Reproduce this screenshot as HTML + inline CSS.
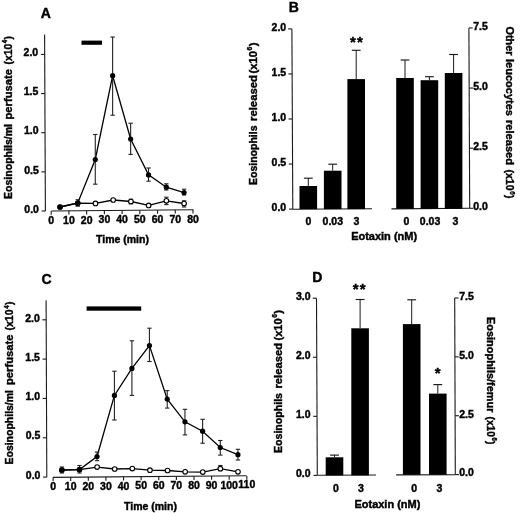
<!DOCTYPE html>
<html><head><meta charset="utf-8"><title>Figure</title>
<style>
html,body{margin:0;padding:0;background:#fff;}
body{width:520px;height:513px;overflow:hidden;}
svg{display:block;font-family:"Liberation Sans", sans-serif;will-change:transform;}
text{fill:#000;stroke:#000;stroke-width:0.4px;}
</style></head><body>
<svg width="520" height="513" viewBox="0 0 520 513">
<rect width="520" height="513" fill="#fff"/>
<line x1="44.60" y1="34.40" x2="45.40" y2="211.00" stroke="#1a1a1a" stroke-width="1.1"/>
<line x1="41.60" y1="211.00" x2="45.40" y2="211.00" stroke="#1a1a1a" stroke-width="1.1"/>
<line x1="41.42" y1="171.85" x2="45.22" y2="171.85" stroke="#1a1a1a" stroke-width="1.1"/>
<line x1="41.25" y1="132.70" x2="45.05" y2="132.70" stroke="#1a1a1a" stroke-width="1.1"/>
<line x1="41.07" y1="93.55" x2="44.87" y2="93.55" stroke="#1a1a1a" stroke-width="1.1"/>
<line x1="40.89" y1="54.40" x2="44.69" y2="54.40" stroke="#1a1a1a" stroke-width="1.1"/>
<text transform="translate(38.90,212.70) scale(1.050,1)" font-size="10" text-anchor="end" font-weight="bold" >0.0</text>
<text transform="translate(38.72,173.55) scale(1.050,1)" font-size="10" text-anchor="end" font-weight="bold" >0.5</text>
<text transform="translate(38.55,134.40) scale(1.050,1)" font-size="10" text-anchor="end" font-weight="bold" >1.0</text>
<text transform="translate(38.37,95.25) scale(1.050,1)" font-size="10" text-anchor="end" font-weight="bold" >1.5</text>
<text transform="translate(38.20,56.10) scale(1.050,1)" font-size="10" text-anchor="end" font-weight="bold" >2.0</text>
<line x1="51.30" y1="211.00" x2="193.40" y2="209.70" stroke="#1a1a1a" stroke-width="1.1"/>
<line x1="51.20" y1="211.00" x2="51.20" y2="214.70" stroke="#1a1a1a" stroke-width="1.1"/>
<line x1="68.93" y1="210.84" x2="68.93" y2="214.54" stroke="#1a1a1a" stroke-width="1.1"/>
<line x1="86.65" y1="210.68" x2="86.65" y2="214.38" stroke="#1a1a1a" stroke-width="1.1"/>
<line x1="104.38" y1="210.51" x2="104.38" y2="214.21" stroke="#1a1a1a" stroke-width="1.1"/>
<line x1="122.10" y1="210.35" x2="122.10" y2="214.05" stroke="#1a1a1a" stroke-width="1.1"/>
<line x1="139.82" y1="210.19" x2="139.82" y2="213.89" stroke="#1a1a1a" stroke-width="1.1"/>
<line x1="157.55" y1="210.03" x2="157.55" y2="213.73" stroke="#1a1a1a" stroke-width="1.1"/>
<line x1="175.28" y1="209.87" x2="175.28" y2="213.57" stroke="#1a1a1a" stroke-width="1.1"/>
<line x1="193.00" y1="209.70" x2="193.00" y2="213.40" stroke="#1a1a1a" stroke-width="1.1"/>
<text transform="translate(51.20,223.90) scale(1.050,1)" font-size="10" text-anchor="middle" font-weight="bold" >0</text>
<text transform="translate(68.93,223.75) scale(1.050,1)" font-size="10" text-anchor="middle" font-weight="bold" >10</text>
<text transform="translate(86.65,223.60) scale(1.050,1)" font-size="10" text-anchor="middle" font-weight="bold" >20</text>
<text transform="translate(104.38,223.45) scale(1.050,1)" font-size="10" text-anchor="middle" font-weight="bold" >30</text>
<text transform="translate(122.10,223.30) scale(1.050,1)" font-size="10" text-anchor="middle" font-weight="bold" >40</text>
<text transform="translate(139.82,223.15) scale(1.050,1)" font-size="10" text-anchor="middle" font-weight="bold" >50</text>
<text transform="translate(157.55,223.00) scale(1.050,1)" font-size="10" text-anchor="middle" font-weight="bold" >60</text>
<text transform="translate(175.28,222.85) scale(1.050,1)" font-size="10" text-anchor="middle" font-weight="bold" >70</text>
<text transform="translate(193.00,222.70) scale(1.050,1)" font-size="10" text-anchor="middle" font-weight="bold" >80</text>
<text transform="translate(122.50,243.20) scale(1.050,1)" font-size="10" text-anchor="middle" font-weight="bold" >Time (min)</text>
<rect x="81.50" y="40.60" width="20.50" height="4.20" fill="#000"/>
<text x="40.80" y="17.80" font-size="14" text-anchor="start" font-weight="bold" >A</text>
<path d="M60.04,207.00 L77.75,203.20 L95.48,203.40 L113.19,200.00 L130.92,201.50 L148.66,205.40 L166.37,200.80 L184.10,203.50" fill="none" stroke="#000" stroke-width="1.3"/>
<line x1="130.92" y1="199.20" x2="130.92" y2="201.50" stroke="#222" stroke-width="1.1"/>
<line x1="128.72" y1="199.20" x2="133.12" y2="199.20" stroke="#222" stroke-width="1.1"/>
<line x1="130.92" y1="201.50" x2="130.92" y2="203.80" stroke="#222" stroke-width="1.1"/>
<line x1="128.72" y1="203.80" x2="133.12" y2="203.80" stroke="#222" stroke-width="1.1"/>
<line x1="166.37" y1="197.20" x2="166.37" y2="200.80" stroke="#222" stroke-width="1.1"/>
<line x1="164.17" y1="197.20" x2="168.57" y2="197.20" stroke="#222" stroke-width="1.1"/>
<line x1="166.37" y1="200.80" x2="166.37" y2="204.60" stroke="#222" stroke-width="1.1"/>
<line x1="164.17" y1="204.60" x2="168.57" y2="204.60" stroke="#222" stroke-width="1.1"/>
<line x1="184.10" y1="200.80" x2="184.10" y2="203.50" stroke="#222" stroke-width="1.1"/>
<line x1="181.90" y1="200.80" x2="186.30" y2="200.80" stroke="#222" stroke-width="1.1"/>
<line x1="184.10" y1="203.50" x2="184.10" y2="207.00" stroke="#222" stroke-width="1.1"/>
<line x1="181.90" y1="207.00" x2="186.30" y2="207.00" stroke="#222" stroke-width="1.1"/>
<circle cx="60.04" cy="207.00" r="2.3000000000000003" fill="#fff" stroke="#000" stroke-width="1.1"/>
<circle cx="77.75" cy="203.20" r="2.3000000000000003" fill="#fff" stroke="#000" stroke-width="1.1"/>
<circle cx="95.48" cy="203.40" r="2.3000000000000003" fill="#fff" stroke="#000" stroke-width="1.1"/>
<circle cx="113.19" cy="200.00" r="2.3000000000000003" fill="#fff" stroke="#000" stroke-width="1.1"/>
<circle cx="130.92" cy="201.50" r="2.3000000000000003" fill="#fff" stroke="#000" stroke-width="1.1"/>
<circle cx="148.66" cy="205.40" r="2.3000000000000003" fill="#fff" stroke="#000" stroke-width="1.1"/>
<circle cx="166.37" cy="200.80" r="2.3000000000000003" fill="#fff" stroke="#000" stroke-width="1.1"/>
<circle cx="184.10" cy="203.50" r="2.3000000000000003" fill="#fff" stroke="#000" stroke-width="1.1"/>
<path d="M60.04,207.00 L77.75,203.00 L95.28,159.50 L112.63,75.70 L130.64,139.00 L148.53,174.90 L166.31,187.20 L184.05,192.60" fill="none" stroke="#000" stroke-width="1.3"/>
<line x1="77.75" y1="199.70" x2="77.75" y2="203.00" stroke="#222" stroke-width="1.1"/>
<line x1="75.55" y1="199.70" x2="79.95" y2="199.70" stroke="#222" stroke-width="1.1"/>
<line x1="77.75" y1="203.00" x2="77.75" y2="206.20" stroke="#222" stroke-width="1.1"/>
<line x1="75.55" y1="206.20" x2="79.95" y2="206.20" stroke="#222" stroke-width="1.1"/>
<line x1="95.28" y1="134.50" x2="95.28" y2="159.50" stroke="#222" stroke-width="1.1"/>
<line x1="93.08" y1="134.50" x2="97.48" y2="134.50" stroke="#222" stroke-width="1.1"/>
<line x1="95.28" y1="159.50" x2="95.28" y2="184.20" stroke="#222" stroke-width="1.1"/>
<line x1="93.08" y1="184.20" x2="97.48" y2="184.20" stroke="#222" stroke-width="1.1"/>
<line x1="112.63" y1="37.00" x2="112.63" y2="75.70" stroke="#222" stroke-width="1.1"/>
<line x1="110.43" y1="37.00" x2="114.83" y2="37.00" stroke="#222" stroke-width="1.1"/>
<line x1="112.63" y1="75.70" x2="112.63" y2="115.20" stroke="#222" stroke-width="1.1"/>
<line x1="110.43" y1="115.20" x2="114.83" y2="115.20" stroke="#222" stroke-width="1.1"/>
<line x1="130.64" y1="123.20" x2="130.64" y2="139.00" stroke="#222" stroke-width="1.1"/>
<line x1="128.44" y1="123.20" x2="132.84" y2="123.20" stroke="#222" stroke-width="1.1"/>
<line x1="130.64" y1="139.00" x2="130.64" y2="154.40" stroke="#222" stroke-width="1.1"/>
<line x1="128.44" y1="154.40" x2="132.84" y2="154.40" stroke="#222" stroke-width="1.1"/>
<line x1="148.53" y1="168.00" x2="148.53" y2="174.90" stroke="#222" stroke-width="1.1"/>
<line x1="146.33" y1="168.00" x2="150.73" y2="168.00" stroke="#222" stroke-width="1.1"/>
<line x1="148.53" y1="174.90" x2="148.53" y2="181.20" stroke="#222" stroke-width="1.1"/>
<line x1="146.33" y1="181.20" x2="150.73" y2="181.20" stroke="#222" stroke-width="1.1"/>
<line x1="166.31" y1="183.80" x2="166.31" y2="187.20" stroke="#222" stroke-width="1.1"/>
<line x1="164.11" y1="183.80" x2="168.51" y2="183.80" stroke="#222" stroke-width="1.1"/>
<line x1="166.31" y1="187.20" x2="166.31" y2="190.00" stroke="#222" stroke-width="1.1"/>
<line x1="164.11" y1="190.00" x2="168.51" y2="190.00" stroke="#222" stroke-width="1.1"/>
<line x1="184.05" y1="189.20" x2="184.05" y2="192.60" stroke="#222" stroke-width="1.1"/>
<line x1="181.85" y1="189.20" x2="186.25" y2="189.20" stroke="#222" stroke-width="1.1"/>
<line x1="184.05" y1="192.60" x2="184.05" y2="195.00" stroke="#222" stroke-width="1.1"/>
<line x1="181.85" y1="195.00" x2="186.25" y2="195.00" stroke="#222" stroke-width="1.1"/>
<circle cx="60.04" cy="207.00" r="2.6" fill="#000"/>
<circle cx="77.75" cy="203.00" r="2.6" fill="#000"/>
<circle cx="95.28" cy="159.50" r="2.6" fill="#000"/>
<circle cx="112.63" cy="75.70" r="2.6" fill="#000"/>
<circle cx="130.64" cy="139.00" r="2.6" fill="#000"/>
<circle cx="148.53" cy="174.90" r="2.6" fill="#000"/>
<circle cx="166.31" cy="187.20" r="2.6" fill="#000"/>
<circle cx="184.05" cy="192.60" r="2.6" fill="#000"/>
<line x1="46.10" y1="300.30" x2="46.80" y2="477.30" stroke="#1a1a1a" stroke-width="1.1"/>
<line x1="43.00" y1="477.10" x2="46.80" y2="477.10" stroke="#1a1a1a" stroke-width="1.1"/>
<line x1="42.84" y1="437.78" x2="46.64" y2="437.78" stroke="#1a1a1a" stroke-width="1.1"/>
<line x1="42.69" y1="398.45" x2="46.49" y2="398.45" stroke="#1a1a1a" stroke-width="1.1"/>
<line x1="42.53" y1="359.12" x2="46.33" y2="359.12" stroke="#1a1a1a" stroke-width="1.1"/>
<line x1="42.38" y1="319.80" x2="46.18" y2="319.80" stroke="#1a1a1a" stroke-width="1.1"/>
<text transform="translate(40.40,478.80) scale(1.050,1)" font-size="10" text-anchor="end" font-weight="bold" >0.0</text>
<text transform="translate(40.24,439.48) scale(1.050,1)" font-size="10" text-anchor="end" font-weight="bold" >0.5</text>
<text transform="translate(40.09,400.15) scale(1.050,1)" font-size="10" text-anchor="end" font-weight="bold" >1.0</text>
<text transform="translate(39.93,360.82) scale(1.050,1)" font-size="10" text-anchor="end" font-weight="bold" >1.5</text>
<text transform="translate(39.77,321.50) scale(1.050,1)" font-size="10" text-anchor="end" font-weight="bold" >2.0</text>
<line x1="53.00" y1="477.40" x2="246.40" y2="475.80" stroke="#1a1a1a" stroke-width="1.1"/>
<line x1="53.10" y1="477.40" x2="53.10" y2="481.10" stroke="#1a1a1a" stroke-width="1.1"/>
<line x1="70.71" y1="477.25" x2="70.71" y2="480.95" stroke="#1a1a1a" stroke-width="1.1"/>
<line x1="88.32" y1="477.11" x2="88.32" y2="480.81" stroke="#1a1a1a" stroke-width="1.1"/>
<line x1="105.93" y1="476.96" x2="105.93" y2="480.66" stroke="#1a1a1a" stroke-width="1.1"/>
<line x1="123.54" y1="476.82" x2="123.54" y2="480.52" stroke="#1a1a1a" stroke-width="1.1"/>
<line x1="141.15" y1="476.67" x2="141.15" y2="480.37" stroke="#1a1a1a" stroke-width="1.1"/>
<line x1="158.76" y1="476.53" x2="158.76" y2="480.23" stroke="#1a1a1a" stroke-width="1.1"/>
<line x1="176.37" y1="476.38" x2="176.37" y2="480.08" stroke="#1a1a1a" stroke-width="1.1"/>
<line x1="193.98" y1="476.23" x2="193.98" y2="479.93" stroke="#1a1a1a" stroke-width="1.1"/>
<line x1="211.59" y1="476.09" x2="211.59" y2="479.79" stroke="#1a1a1a" stroke-width="1.1"/>
<line x1="229.20" y1="475.94" x2="229.20" y2="479.64" stroke="#1a1a1a" stroke-width="1.1"/>
<line x1="246.81" y1="475.80" x2="246.81" y2="479.50" stroke="#1a1a1a" stroke-width="1.1"/>
<text transform="translate(53.10,490.10) scale(1.050,1)" font-size="10" text-anchor="middle" font-weight="bold" >0</text>
<text transform="translate(70.71,489.95) scale(1.050,1)" font-size="10" text-anchor="middle" font-weight="bold" >10</text>
<text transform="translate(88.32,489.81) scale(1.050,1)" font-size="10" text-anchor="middle" font-weight="bold" >20</text>
<text transform="translate(105.93,489.66) scale(1.050,1)" font-size="10" text-anchor="middle" font-weight="bold" >30</text>
<text transform="translate(123.54,489.51) scale(1.050,1)" font-size="10" text-anchor="middle" font-weight="bold" >40</text>
<text transform="translate(141.15,489.37) scale(1.050,1)" font-size="10" text-anchor="middle" font-weight="bold" >50</text>
<text transform="translate(158.76,489.22) scale(1.050,1)" font-size="10" text-anchor="middle" font-weight="bold" >60</text>
<text transform="translate(176.37,489.08) scale(1.050,1)" font-size="10" text-anchor="middle" font-weight="bold" >70</text>
<text transform="translate(193.98,488.93) scale(1.050,1)" font-size="10" text-anchor="middle" font-weight="bold" >80</text>
<text transform="translate(211.59,488.78) scale(1.050,1)" font-size="10" text-anchor="middle" font-weight="bold" >90</text>
<text transform="translate(229.20,488.64) scale(1.050,1)" font-size="10" text-anchor="middle" font-weight="bold" >100</text>
<text transform="translate(246.81,488.49) scale(1.050,1)" font-size="10" text-anchor="middle" font-weight="bold" >110</text>
<text transform="translate(150.45,509.50) scale(1.050,1)" font-size="10" text-anchor="middle" font-weight="bold" >Time (min)</text>
<rect x="86.60" y="306.40" width="54.60" height="4.30" fill="#000"/>
<text x="41.60" y="284.20" font-size="14" text-anchor="start" font-weight="bold" >C</text>
<path d="M61.88,470.00 L79.49,469.60 L97.09,467.10 L114.70,469.00 L132.31,468.60 L149.93,470.20 L167.54,470.50 L185.15,471.80 L202.77,472.10 L220.36,468.70 L237.98,471.80" fill="none" stroke="#000" stroke-width="1.3"/>
<line x1="220.36" y1="465.50" x2="220.36" y2="468.70" stroke="#222" stroke-width="1.1"/>
<line x1="218.16" y1="465.50" x2="222.56" y2="465.50" stroke="#222" stroke-width="1.1"/>
<line x1="220.36" y1="468.70" x2="220.36" y2="470.60" stroke="#222" stroke-width="1.1"/>
<line x1="218.16" y1="470.60" x2="222.56" y2="470.60" stroke="#222" stroke-width="1.1"/>
<circle cx="61.88" cy="470.00" r="2.3000000000000003" fill="#fff" stroke="#000" stroke-width="1.1"/>
<circle cx="79.49" cy="469.60" r="2.3000000000000003" fill="#fff" stroke="#000" stroke-width="1.1"/>
<circle cx="97.09" cy="467.10" r="2.3000000000000003" fill="#fff" stroke="#000" stroke-width="1.1"/>
<circle cx="114.70" cy="469.00" r="2.3000000000000003" fill="#fff" stroke="#000" stroke-width="1.1"/>
<circle cx="132.31" cy="468.60" r="2.3000000000000003" fill="#fff" stroke="#000" stroke-width="1.1"/>
<circle cx="149.93" cy="470.20" r="2.3000000000000003" fill="#fff" stroke="#000" stroke-width="1.1"/>
<circle cx="167.54" cy="470.50" r="2.3000000000000003" fill="#fff" stroke="#000" stroke-width="1.1"/>
<circle cx="185.15" cy="471.80" r="2.3000000000000003" fill="#fff" stroke="#000" stroke-width="1.1"/>
<circle cx="202.77" cy="472.10" r="2.3000000000000003" fill="#fff" stroke="#000" stroke-width="1.1"/>
<circle cx="220.36" cy="468.70" r="2.3000000000000003" fill="#fff" stroke="#000" stroke-width="1.1"/>
<circle cx="237.98" cy="471.80" r="2.3000000000000003" fill="#fff" stroke="#000" stroke-width="1.1"/>
<path d="M61.88,470.00 L79.49,469.60 L97.04,456.50 L114.41,395.40 L131.91,368.40 L149.43,345.50 L167.25,399.10 L184.95,421.80 L202.60,431.20 L220.28,447.50 L237.92,454.70" fill="none" stroke="#000" stroke-width="1.3"/>
<line x1="61.88" y1="467.00" x2="61.88" y2="470.00" stroke="#222" stroke-width="1.1"/>
<line x1="59.68" y1="467.00" x2="64.08" y2="467.00" stroke="#222" stroke-width="1.1"/>
<line x1="61.88" y1="470.00" x2="61.88" y2="473.00" stroke="#222" stroke-width="1.1"/>
<line x1="59.68" y1="473.00" x2="64.08" y2="473.00" stroke="#222" stroke-width="1.1"/>
<line x1="79.49" y1="465.50" x2="79.49" y2="469.60" stroke="#222" stroke-width="1.1"/>
<line x1="77.29" y1="465.50" x2="81.69" y2="465.50" stroke="#222" stroke-width="1.1"/>
<line x1="79.49" y1="469.60" x2="79.49" y2="473.00" stroke="#222" stroke-width="1.1"/>
<line x1="77.29" y1="473.00" x2="81.69" y2="473.00" stroke="#222" stroke-width="1.1"/>
<line x1="97.04" y1="452.10" x2="97.04" y2="456.50" stroke="#222" stroke-width="1.1"/>
<line x1="94.84" y1="452.10" x2="99.24" y2="452.10" stroke="#222" stroke-width="1.1"/>
<line x1="97.04" y1="456.50" x2="97.04" y2="460.70" stroke="#222" stroke-width="1.1"/>
<line x1="94.84" y1="460.70" x2="99.24" y2="460.70" stroke="#222" stroke-width="1.1"/>
<line x1="114.41" y1="371.20" x2="114.41" y2="395.40" stroke="#222" stroke-width="1.1"/>
<line x1="112.21" y1="371.20" x2="116.61" y2="371.20" stroke="#222" stroke-width="1.1"/>
<line x1="114.41" y1="395.40" x2="114.41" y2="420.00" stroke="#222" stroke-width="1.1"/>
<line x1="112.21" y1="420.00" x2="116.61" y2="420.00" stroke="#222" stroke-width="1.1"/>
<line x1="131.91" y1="340.80" x2="131.91" y2="368.40" stroke="#222" stroke-width="1.1"/>
<line x1="129.71" y1="340.80" x2="134.11" y2="340.80" stroke="#222" stroke-width="1.1"/>
<line x1="131.91" y1="368.40" x2="131.91" y2="395.40" stroke="#222" stroke-width="1.1"/>
<line x1="129.71" y1="395.40" x2="134.11" y2="395.40" stroke="#222" stroke-width="1.1"/>
<line x1="149.43" y1="328.20" x2="149.43" y2="345.50" stroke="#222" stroke-width="1.1"/>
<line x1="147.23" y1="328.20" x2="151.63" y2="328.20" stroke="#222" stroke-width="1.1"/>
<line x1="149.43" y1="345.50" x2="149.43" y2="361.50" stroke="#222" stroke-width="1.1"/>
<line x1="147.23" y1="361.50" x2="151.63" y2="361.50" stroke="#222" stroke-width="1.1"/>
<line x1="167.25" y1="390.60" x2="167.25" y2="399.10" stroke="#222" stroke-width="1.1"/>
<line x1="165.05" y1="390.60" x2="169.45" y2="390.60" stroke="#222" stroke-width="1.1"/>
<line x1="167.25" y1="399.10" x2="167.25" y2="408.10" stroke="#222" stroke-width="1.1"/>
<line x1="165.05" y1="408.10" x2="169.45" y2="408.10" stroke="#222" stroke-width="1.1"/>
<line x1="184.95" y1="409.30" x2="184.95" y2="421.80" stroke="#222" stroke-width="1.1"/>
<line x1="182.75" y1="409.30" x2="187.15" y2="409.30" stroke="#222" stroke-width="1.1"/>
<line x1="184.95" y1="421.80" x2="184.95" y2="434.90" stroke="#222" stroke-width="1.1"/>
<line x1="182.75" y1="434.90" x2="187.15" y2="434.90" stroke="#222" stroke-width="1.1"/>
<line x1="202.60" y1="419.30" x2="202.60" y2="431.20" stroke="#222" stroke-width="1.1"/>
<line x1="200.40" y1="419.30" x2="204.80" y2="419.30" stroke="#222" stroke-width="1.1"/>
<line x1="202.60" y1="431.20" x2="202.60" y2="443.20" stroke="#222" stroke-width="1.1"/>
<line x1="200.40" y1="443.20" x2="204.80" y2="443.20" stroke="#222" stroke-width="1.1"/>
<line x1="220.28" y1="440.50" x2="220.28" y2="447.50" stroke="#222" stroke-width="1.1"/>
<line x1="218.08" y1="440.50" x2="222.48" y2="440.50" stroke="#222" stroke-width="1.1"/>
<line x1="220.28" y1="447.50" x2="220.28" y2="455.10" stroke="#222" stroke-width="1.1"/>
<line x1="218.08" y1="455.10" x2="222.48" y2="455.10" stroke="#222" stroke-width="1.1"/>
<line x1="237.92" y1="449.30" x2="237.92" y2="454.70" stroke="#222" stroke-width="1.1"/>
<line x1="235.72" y1="449.30" x2="240.12" y2="449.30" stroke="#222" stroke-width="1.1"/>
<line x1="237.92" y1="454.70" x2="237.92" y2="460.00" stroke="#222" stroke-width="1.1"/>
<line x1="235.72" y1="460.00" x2="240.12" y2="460.00" stroke="#222" stroke-width="1.1"/>
<circle cx="61.88" cy="470.00" r="2.6" fill="#000"/>
<circle cx="79.49" cy="469.60" r="2.6" fill="#000"/>
<circle cx="97.04" cy="456.50" r="2.6" fill="#000"/>
<circle cx="114.41" cy="395.40" r="2.6" fill="#000"/>
<circle cx="131.91" cy="368.40" r="2.6" fill="#000"/>
<circle cx="149.43" cy="345.50" r="2.6" fill="#000"/>
<circle cx="167.25" cy="399.10" r="2.6" fill="#000"/>
<circle cx="184.95" cy="421.80" r="2.6" fill="#000"/>
<circle cx="202.60" cy="431.20" r="2.6" fill="#000"/>
<circle cx="220.28" cy="447.50" r="2.6" fill="#000"/>
<circle cx="237.92" cy="454.70" r="2.6" fill="#000"/>
<line x1="291.90" y1="29.00" x2="292.80" y2="209.30" stroke="#1a1a1a" stroke-width="1.1"/>
<line x1="289.00" y1="209.10" x2="292.80" y2="209.10" stroke="#1a1a1a" stroke-width="1.1"/>
<line x1="288.77" y1="164.05" x2="292.57" y2="164.05" stroke="#1a1a1a" stroke-width="1.1"/>
<line x1="288.55" y1="119.00" x2="292.35" y2="119.00" stroke="#1a1a1a" stroke-width="1.1"/>
<line x1="288.32" y1="73.95" x2="292.12" y2="73.95" stroke="#1a1a1a" stroke-width="1.1"/>
<line x1="288.10" y1="28.90" x2="291.90" y2="28.90" stroke="#1a1a1a" stroke-width="1.1"/>
<text transform="translate(286.20,210.90) scale(1.050,1)" font-size="10" text-anchor="end" font-weight="bold" >0.0</text>
<text transform="translate(286.20,165.85) scale(1.050,1)" font-size="10" text-anchor="end" font-weight="bold" >0.5</text>
<text transform="translate(286.20,120.80) scale(1.050,1)" font-size="10" text-anchor="end" font-weight="bold" >1.0</text>
<text transform="translate(286.20,75.75) scale(1.050,1)" font-size="10" text-anchor="end" font-weight="bold" >1.5</text>
<text transform="translate(286.20,30.70) scale(1.050,1)" font-size="10" text-anchor="end" font-weight="bold" >2.0</text>
<line x1="292.80" y1="209.30" x2="372.00" y2="208.80" stroke="#1a1a1a" stroke-width="1.1"/>
<line x1="308.30" y1="178.20" x2="308.30" y2="186.00" stroke="#1a1a1a" stroke-width="1.0"/>
<line x1="303.90" y1="178.20" x2="312.70" y2="178.20" stroke="#1a1a1a" stroke-width="1.15"/>
<rect x="299.50" y="186.00" width="17.60" height="23.10" fill="#000"/>
<line x1="332.70" y1="164.20" x2="332.70" y2="170.70" stroke="#1a1a1a" stroke-width="1.0"/>
<line x1="328.30" y1="164.20" x2="337.10" y2="164.20" stroke="#1a1a1a" stroke-width="1.15"/>
<rect x="323.90" y="170.70" width="17.60" height="38.40" fill="#000"/>
<line x1="356.20" y1="50.30" x2="356.20" y2="79.10" stroke="#1a1a1a" stroke-width="1.0"/>
<line x1="351.80" y1="50.30" x2="360.60" y2="50.30" stroke="#1a1a1a" stroke-width="1.15"/>
<rect x="347.40" y="79.10" width="17.60" height="130.00" fill="#000"/>
<text transform="translate(308.30,224.60) scale(1.050,1)" font-size="10" text-anchor="middle" font-weight="bold" >0</text>
<text transform="translate(332.80,224.60) scale(1.050,1)" font-size="10" text-anchor="middle" font-weight="bold" >0.03</text>
<text transform="translate(356.40,224.60) scale(1.050,1)" font-size="10" text-anchor="middle" font-weight="bold" >3</text>
<text x="353.00" y="46.60" font-size="15" text-anchor="middle" font-weight="bold" >*</text>
<text x="359.85" y="46.60" font-size="15" text-anchor="middle" font-weight="bold" >*</text>
<line x1="391.50" y1="208.90" x2="469.70" y2="208.30" stroke="#1a1a1a" stroke-width="1.1"/>
<line x1="405.00" y1="60.00" x2="405.00" y2="78.00" stroke="#1a1a1a" stroke-width="1.0"/>
<line x1="400.60" y1="60.00" x2="409.40" y2="60.00" stroke="#1a1a1a" stroke-width="1.15"/>
<rect x="396.20" y="78.00" width="17.60" height="130.80" fill="#000"/>
<line x1="429.40" y1="76.70" x2="429.40" y2="80.20" stroke="#1a1a1a" stroke-width="1.0"/>
<line x1="425.00" y1="76.70" x2="433.80" y2="76.70" stroke="#1a1a1a" stroke-width="1.15"/>
<rect x="420.60" y="80.20" width="17.60" height="128.60" fill="#000"/>
<line x1="453.60" y1="54.50" x2="453.60" y2="73.00" stroke="#1a1a1a" stroke-width="1.0"/>
<line x1="449.20" y1="54.50" x2="458.00" y2="54.50" stroke="#1a1a1a" stroke-width="1.15"/>
<rect x="444.80" y="73.00" width="17.60" height="135.80" fill="#000"/>
<text transform="translate(406.50,224.60) scale(1.050,1)" font-size="10" text-anchor="middle" font-weight="bold" >0</text>
<text transform="translate(430.00,224.60) scale(1.050,1)" font-size="10" text-anchor="middle" font-weight="bold" >0.03</text>
<text transform="translate(455.50,224.60) scale(1.050,1)" font-size="10" text-anchor="middle" font-weight="bold" >3</text>
<line x1="468.90" y1="27.90" x2="469.70" y2="208.30" stroke="#1a1a1a" stroke-width="1.1"/>
<line x1="469.70" y1="208.30" x2="473.50" y2="208.30" stroke="#1a1a1a" stroke-width="1.1"/>
<line x1="469.43" y1="148.18" x2="473.23" y2="148.18" stroke="#1a1a1a" stroke-width="1.1"/>
<line x1="469.17" y1="88.05" x2="472.97" y2="88.05" stroke="#1a1a1a" stroke-width="1.1"/>
<line x1="468.90" y1="27.93" x2="472.70" y2="27.93" stroke="#1a1a1a" stroke-width="1.1"/>
<text transform="translate(473.20,210.10) scale(1.050,1)" font-size="10" text-anchor="start" font-weight="bold" >0.0</text>
<text transform="translate(473.20,149.98) scale(1.050,1)" font-size="10" text-anchor="start" font-weight="bold" >2.5</text>
<text transform="translate(473.20,89.85) scale(1.050,1)" font-size="10" text-anchor="start" font-weight="bold" >5.0</text>
<text transform="translate(473.20,29.73) scale(1.050,1)" font-size="10" text-anchor="start" font-weight="bold" >7.5</text>
<text transform="translate(384.10,240.40) scale(1.100,1)" font-size="10" text-anchor="middle" font-weight="bold" >Eotaxin (nM)</text>
<text x="288.80" y="12.00" font-size="14" text-anchor="start" font-weight="bold" >B</text>
<line x1="316.50" y1="298.20" x2="317.30" y2="475.30" stroke="#1a1a1a" stroke-width="1.1"/>
<line x1="313.50" y1="475.40" x2="317.30" y2="475.40" stroke="#1a1a1a" stroke-width="1.1"/>
<line x1="313.23" y1="416.33" x2="317.03" y2="416.33" stroke="#1a1a1a" stroke-width="1.1"/>
<line x1="312.97" y1="357.26" x2="316.77" y2="357.26" stroke="#1a1a1a" stroke-width="1.1"/>
<line x1="312.70" y1="298.19" x2="316.50" y2="298.19" stroke="#1a1a1a" stroke-width="1.1"/>
<text transform="translate(310.60,477.20) scale(1.050,1)" font-size="10" text-anchor="end" font-weight="bold" >0.0</text>
<text transform="translate(310.60,418.13) scale(1.050,1)" font-size="10" text-anchor="end" font-weight="bold" >1.0</text>
<text transform="translate(310.60,359.06) scale(1.050,1)" font-size="10" text-anchor="end" font-weight="bold" >2.0</text>
<text transform="translate(310.60,299.99) scale(1.050,1)" font-size="10" text-anchor="end" font-weight="bold" >3.0</text>
<line x1="317.30" y1="475.30" x2="376.00" y2="475.00" stroke="#1a1a1a" stroke-width="1.1"/>
<line x1="334.50" y1="455.10" x2="334.50" y2="457.30" stroke="#1a1a1a" stroke-width="1.0"/>
<line x1="330.10" y1="455.10" x2="338.90" y2="455.10" stroke="#1a1a1a" stroke-width="1.15"/>
<rect x="325.70" y="457.30" width="17.60" height="18.10" fill="#000"/>
<line x1="360.10" y1="299.50" x2="360.10" y2="328.30" stroke="#1a1a1a" stroke-width="1.0"/>
<line x1="355.70" y1="299.50" x2="364.50" y2="299.50" stroke="#1a1a1a" stroke-width="1.15"/>
<rect x="351.30" y="328.30" width="17.60" height="147.10" fill="#000"/>
<text transform="translate(335.80,492.20) scale(1.050,1)" font-size="10" text-anchor="middle" font-weight="bold" >0</text>
<text transform="translate(360.80,492.20) scale(1.050,1)" font-size="10" text-anchor="middle" font-weight="bold" >3</text>
<text x="355.60" y="294.40" font-size="15" text-anchor="middle" font-weight="bold" >*</text>
<text x="362.60" y="294.40" font-size="15" text-anchor="middle" font-weight="bold" >*</text>
<line x1="396.20" y1="474.90" x2="455.30" y2="474.70" stroke="#1a1a1a" stroke-width="1.1"/>
<line x1="411.70" y1="299.80" x2="411.70" y2="324.10" stroke="#1a1a1a" stroke-width="1.0"/>
<line x1="407.30" y1="299.80" x2="416.10" y2="299.80" stroke="#1a1a1a" stroke-width="1.15"/>
<rect x="402.90" y="324.10" width="17.60" height="150.70" fill="#000"/>
<line x1="437.80" y1="384.60" x2="437.80" y2="393.60" stroke="#1a1a1a" stroke-width="1.0"/>
<line x1="433.40" y1="384.60" x2="442.20" y2="384.60" stroke="#1a1a1a" stroke-width="1.15"/>
<rect x="429.00" y="393.60" width="17.60" height="81.20" fill="#000"/>
<text transform="translate(414.20,492.40) scale(1.050,1)" font-size="10" text-anchor="middle" font-weight="bold" >0</text>
<text transform="translate(439.40,492.40) scale(1.050,1)" font-size="10" text-anchor="middle" font-weight="bold" >3</text>
<line x1="454.70" y1="297.90" x2="455.30" y2="474.70" stroke="#1a1a1a" stroke-width="1.1"/>
<line x1="455.30" y1="474.60" x2="459.10" y2="474.60" stroke="#1a1a1a" stroke-width="1.1"/>
<line x1="455.10" y1="415.73" x2="458.90" y2="415.73" stroke="#1a1a1a" stroke-width="1.1"/>
<line x1="454.90" y1="356.85" x2="458.70" y2="356.85" stroke="#1a1a1a" stroke-width="1.1"/>
<line x1="454.70" y1="297.98" x2="458.50" y2="297.98" stroke="#1a1a1a" stroke-width="1.1"/>
<text transform="translate(459.20,476.40) scale(1.050,1)" font-size="10" text-anchor="start" font-weight="bold" >0.0</text>
<text transform="translate(459.20,417.53) scale(1.050,1)" font-size="10" text-anchor="start" font-weight="bold" >2.5</text>
<text transform="translate(459.20,358.65) scale(1.050,1)" font-size="10" text-anchor="start" font-weight="bold" >5.0</text>
<text transform="translate(459.20,299.78) scale(1.050,1)" font-size="10" text-anchor="start" font-weight="bold" >7.5</text>
<text transform="translate(387.40,507.70) scale(1.100,1)" font-size="10" text-anchor="middle" font-weight="bold" >Eotaxin (nM)</text>
<text x="437.60" y="377.90" font-size="15" text-anchor="middle" font-weight="bold" >*</text>
<text x="312.30" y="281.80" font-size="14" text-anchor="start" font-weight="bold" >D</text>
<text transform="translate(11.70,199.00) rotate(-90)" x="0" y="0" font-size="11" font-weight="bold" textLength="75.00" lengthAdjust="spacingAndGlyphs">Eosinophils/ml</text>
<text transform="translate(11.70,119.50) rotate(-90)" x="0" y="0" font-size="11" font-weight="bold" textLength="50.50" lengthAdjust="spacingAndGlyphs">perfusate</text>
<text transform="translate(11.70,64.50) rotate(-90)" x="0" y="0" font-size="11" font-weight="bold" textLength="28.50" lengthAdjust="spacingAndGlyphs">(x10<tspan dx="0.6" dy="-4.6" font-size="6.5">4</tspan><tspan dx="0.4" dy="4.6">)</tspan></text>
<text transform="translate(13.10,464.50) rotate(-90)" x="0" y="0" font-size="11" font-weight="bold" textLength="74.50" lengthAdjust="spacingAndGlyphs">Eosinophils/ml</text>
<text transform="translate(13.10,385.00) rotate(-90)" x="0" y="0" font-size="11" font-weight="bold" textLength="50.50" lengthAdjust="spacingAndGlyphs">perfusate</text>
<text transform="translate(13.10,330.50) rotate(-90)" x="0" y="0" font-size="11" font-weight="bold" textLength="29.00" lengthAdjust="spacingAndGlyphs">(x10<tspan dx="0.6" dy="-4.6" font-size="6.5">4</tspan><tspan dx="0.4" dy="4.6">)</tspan></text>
<text transform="translate(256.70,185.00) rotate(-90)" x="0" y="0" font-size="11" font-weight="bold" textLength="59.50" lengthAdjust="spacingAndGlyphs">Eosinophils</text>
<text transform="translate(256.70,121.00) rotate(-90)" x="0" y="0" font-size="11" font-weight="bold" textLength="46.00" lengthAdjust="spacingAndGlyphs">released</text>
<text transform="translate(256.70,73.50) rotate(-90)" x="0" y="0" font-size="11" font-weight="bold" textLength="31.00" lengthAdjust="spacingAndGlyphs">(x10<tspan dx="0.6" dy="-4.6" font-size="6.5">6</tspan><tspan dx="0.4" dy="4.6">)</tspan></text>
<text transform="translate(281.70,453.00) rotate(-90)" x="0" y="0" font-size="11" font-weight="bold" textLength="60.00" lengthAdjust="spacingAndGlyphs">Eosinophils</text>
<text transform="translate(281.70,388.50) rotate(-90)" x="0" y="0" font-size="11" font-weight="bold" textLength="45.50" lengthAdjust="spacingAndGlyphs">released</text>
<text transform="translate(281.70,340.50) rotate(-90)" x="0" y="0" font-size="11" font-weight="bold" textLength="30.50" lengthAdjust="spacingAndGlyphs">(x10<tspan dx="0.6" dy="-4.6" font-size="6.5">6</tspan><tspan dx="0.4" dy="4.6">)</tspan></text>
<text transform="translate(505.80,26.50) rotate(90)" x="0" y="0" font-size="11" font-weight="bold" textLength="29.00" lengthAdjust="spacingAndGlyphs">Other</text>
<text transform="translate(505.80,59.00) rotate(90)" x="0" y="0" font-size="11" font-weight="bold" textLength="57.00" lengthAdjust="spacingAndGlyphs">leucocytes</text>
<text transform="translate(505.80,120.00) rotate(90)" x="0" y="0" font-size="11" font-weight="bold" textLength="45.00" lengthAdjust="spacingAndGlyphs">released</text>
<text transform="translate(505.80,169.50) rotate(90)" x="0" y="0" font-size="11" font-weight="bold" textLength="29.00" lengthAdjust="spacingAndGlyphs">(x10<tspan dx="0.6" dy="-4.6" font-size="6.5">6</tspan><tspan dx="0.4" dy="4.6">)</tspan></text>
<text transform="translate(487.00,317.00) rotate(90)" x="0" y="0" font-size="11" font-weight="bold" textLength="95.50" lengthAdjust="spacingAndGlyphs">Eosinophils/femur</text>
<text transform="translate(487.00,416.50) rotate(90)" x="0" y="0" font-size="11" font-weight="bold" textLength="28.00" lengthAdjust="spacingAndGlyphs">(x10<tspan dx="0.6" dy="-4.6" font-size="6.5">6</tspan><tspan dx="0.4" dy="4.6">)</tspan></text>
</svg>
</body></html>
